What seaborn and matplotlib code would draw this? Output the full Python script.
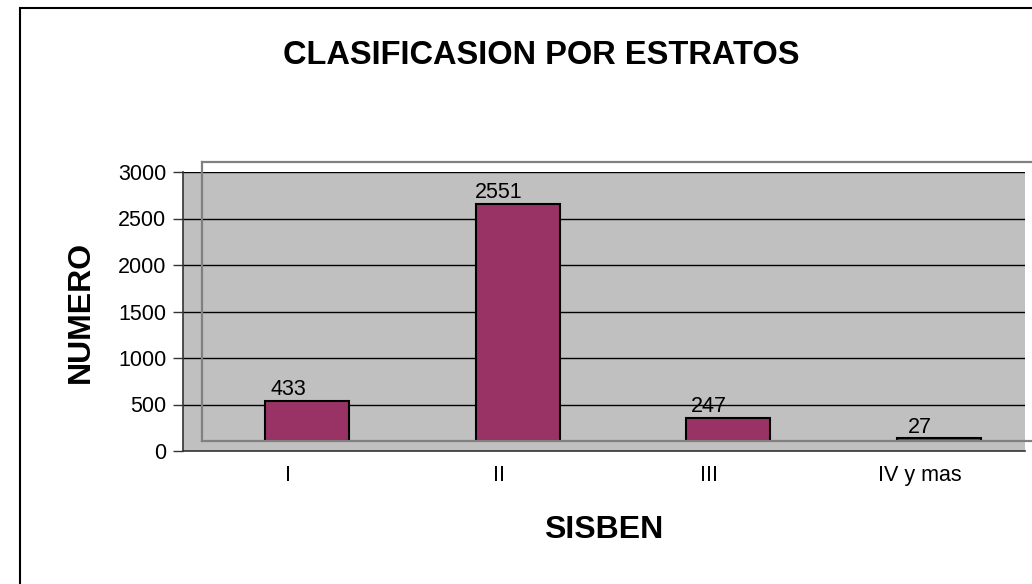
import matplotlib
matplotlib.use("Agg")
import matplotlib.pyplot as plt
from matplotlib.patches import Rectangle
import seaborn as sns
import pandas as pd

# data
estratos = ["I", "II", "III", "IV y mas"]
numero = [433, 2551, 247, 27]
yticks = [0, 500, 1000, 1500, 2000, 2500, 3000]

sns.set_style("white")
plt.rcParams["font.family"] = ["Liberation Sans", "DejaVu Sans"]
plt.rcParams["text.color"] = "black"
plt.rcParams["xtick.color"] = "black"
plt.rcParams["ytick.color"] = "black"

W, H = 1032, 584
fig = plt.figure(figsize=(W / 100, H / 100), dpi=100)

# front axes: grey wall, gridlines, ticks (pixel box 183..1025 x 172..451)
ax = fig.add_axes([183 / W, 1 - 451 / H, 842 / W, 279 / H])
ax.set_facecolor("#c0c0c0")
ax.set_xlim(-0.5, 3.5)
ax.set_ylim(0, 3000)
ax.set_yticks(yticks)
ax.set_yticklabels([str(v) for v in yticks], fontsize=15.5)
ax.set_xticks([0, 1, 2, 3])
ax.set_xticklabels(estratos, fontsize=15.5)
ax.set_xticks([-0.5, 0.5, 1.5, 2.5, 3.5], minor=True)
ax.tick_params(axis="x", which="major", length=0, pad=10)
ax.tick_params(axis="x", which="minor", length=6, width=1, color="#333333", direction="out")
ax.tick_params(axis="y", length=7, width=1, color="#333333", direction="out", pad=5, left=True)
for v in yticks[1:]:
    ax.axhline(v, color="black", lw=1, zorder=1)
for s in ["top", "right"]:
    ax.spines[s].set_visible(False)
for s in ["left", "bottom"]:
    ax.spines[s].set_color("#333333")
    ax.spines[s].set_linewidth(1.2)

# back plane with the bars, shifted right and up for the 3D look
ax2 = fig.add_axes([202 / W, 1 - 441 / H, 842 / W, 279 / H], zorder=2)
ax2.patch.set_alpha(0)
df = pd.DataFrame({"estrato": estratos, "numero": numero})
sns.barplot(data=df, x="estrato", y="numero", color="#993366", saturation=1,
            width=0.4, edgecolor="black", linewidth=1.5, ax=ax2)
ax2.set_xlim(-0.5, 3.5)
ax2.set_ylim(0, 3000)
ax2.set_xticks([])
ax2.set_yticks([])
ax2.set_xlabel("")
ax2.set_ylabel("")
for s in ax2.spines.values():
    s.set_color("#808080")
    s.set_linewidth(1.6)

for i, v in enumerate(numero):
    ax.annotate(str(v), (i, v), xytext=(0, 11.5), textcoords="offset points",
                ha="center", va="baseline", fontsize=15.5, zorder=5)

fig.text(541 / W, 1 - 55 / H, "CLASIFICASION POR ESTRATOS", fontsize=23.5,
         fontweight="bold", ha="center", va="center")
fig.text(81 / W, 1 - 312 / H, "NUMERO", fontsize=23, fontweight="bold",
         rotation=90, ha="center", va="center")
fig.text(604 / W, 1 - 530 / H, "SISBEN", fontsize=23, fontweight="bold",
         ha="center", va="center")

# chart area border (runs off the right and bottom edge)
fig.add_artist(Rectangle((20 / W, -0.5), 1.5, 1.5 - 8 / H, transform=fig.transFigure,
                         fill=False, ec="black", lw=1.5))

fig.savefig("out.png", dpi=100)
